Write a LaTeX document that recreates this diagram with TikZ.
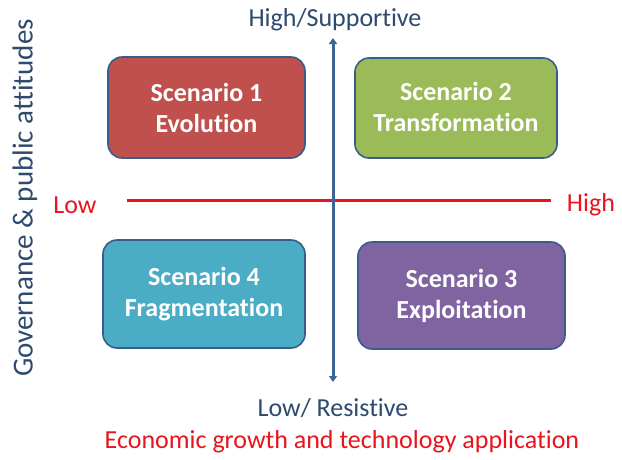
\documentclass[tikz,border=0pt]{standalone}
\usepackage{fontspec}
\setmainfont[Ligatures={CommonOff,ContextualOff}]{Carlito}
\usetikzlibrary{arrows.meta}
\definecolor{axisblue}{HTML}{3D6597}
\definecolor{labelnavy}{HTML}{2E4A6E}
\definecolor{axisred}{HTML}{E8141E}
\definecolor{edgeblue}{HTML}{385D8A}
\definecolor{sred}{HTML}{C0504D}
\definecolor{sgreen}{HTML}{9BBB59}
\definecolor{sblue}{HTML}{4BACC6}
\definecolor{spurple}{HTML}{8064A2}
\tikzset{
  scenario/.style={draw=edgeblue, line width=1.6pt, rounded corners=14pt},
  scenariotext/.style={text=white, font=\bfseries\fontsize{26}{31}\selectfont, align=center},
  axislabel/.style={text=labelnavy, font=\fontsize{26}{30}\selectfont},
  redlabel/.style={text=axisred, font=\fontsize{26}{30}\selectfont}
}
\begin{document}
\begin{tikzpicture}[x=1pt, y=-1pt]
  \useasboundingbox (0,0) rectangle (622,459);
  \fill[white] (0,0) rectangle (622,459);

  % scenario boxes
  \draw[scenario, fill=sred] (108,57) rectangle (305,158);
  \node[scenariotext] (s1) at (206.5,108) {Scenario 1\\Evolution};
  \draw[scenario, fill=sgreen] (355,58) rectangle (557,158);
  \node[scenariotext] (s2) at (456,107) {Scenario 2\\Transformation};
  \draw[scenario, fill=sblue] (103,240) rectangle (305,348);
  \node[scenariotext] (s4) at (204,294) {Scenario 4\\Fragmentation};
  \draw[scenario, fill=spurple] (358,242) rectangle (565,349);
  \node[scenariotext] (s3) at (461.5,296) {Scenario 3\\Exploitation};

  % axes
  \coordinate (top) at (333,38);
  \coordinate (bottom) at (333,382);
  \coordinate (left) at (127,200);
  \coordinate (right) at (551,200);
  \draw[axisred, line width=3pt] (left) -- (right);
  \draw[axisblue, line width=3pt, {Triangle[length=6pt,width=8pt]}-{Triangle[length=6pt,width=8pt]}] (bottom) -- (top);

  % axis labels
  \node[axislabel] (hi) at (335,20) {High/Supportive};
  \node[axislabel] (lo) at (333,408) {Low/ Resistive};
  \node[redlabel] (lowx) at (75,205) {Low};
  \node[redlabel] (highx) at (591,205) {High};
  \node[redlabel] (xtitle) at (342,442) {Economic growth and technology application};
  \node[axislabel, rotate=90, font=\fontsize{29}{33}\selectfont] (ytitle) at (25,198) {Governance \& public attitudes};
\end{tikzpicture}
\end{document}
